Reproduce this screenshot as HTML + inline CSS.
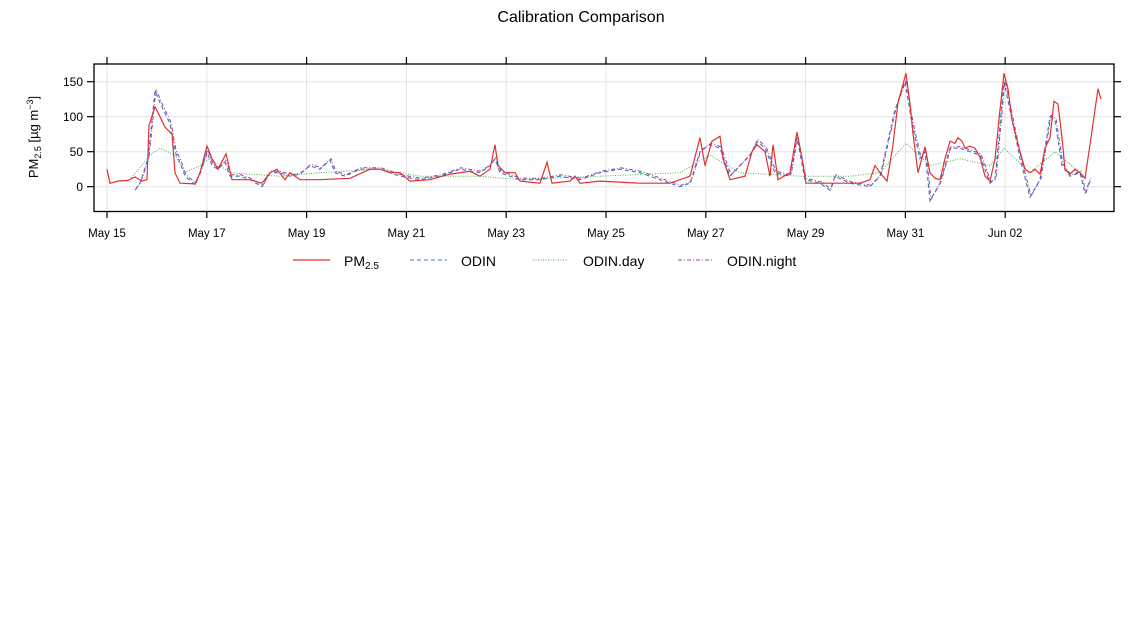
<!DOCTYPE html>
<html><head><meta charset="utf-8"><style>
html,body{margin:0;padding:0;background:#fff;width:1142px;height:630px;overflow:hidden}
text{font-family:"Liberation Sans",Arial,sans-serif;fill:#000}
</style></head><body>
<svg id="s" width="1142" height="630" xmlns="http://www.w3.org/2000/svg">
<text x="581" y="22" font-size="16" text-anchor="middle">Calibration Comparison</text>
<g id="grid" stroke="#e3e3e3" stroke-width="1"></g>
<g id="series" fill="none"></g>
<rect x="94" y="64" width="1020" height="147.5" fill="none" stroke="#000" stroke-width="1.3"/>
<g id="ticks" stroke="#000" stroke-width="1.2"></g>
<g id="labels" font-size="12"></g>
<text transform="translate(38,137) rotate(-90)" font-size="13" text-anchor="middle">PM<tspan font-size="9" dy="3">2.5</tspan><tspan dy="-3"> [µg m</tspan><tspan font-size="9" dy="-5">−3</tspan><tspan dy="5">]</tspan></text>
<g font-size="14">
<line x1="293" y1="260" x2="330" y2="260" stroke="#e0302f" stroke-width="1.2"/>
<text x="344" y="266">PM<tspan font-size="10" dy="3">2.5</tspan></text>
<line x1="410" y1="260" x2="447" y2="260" stroke="#3a78c0" stroke-width="1" stroke-dasharray="4,3"/>
<text x="461" y="266">ODIN</text>
<line x1="533" y1="260" x2="568" y2="260" stroke="#4caf50" stroke-width="1" stroke-dasharray="1,1.5"/>
<text x="583" y="266">ODIN.day</text>
<line x1="678" y1="260" x2="714" y2="260" stroke="#9c3fa0" stroke-width="1" stroke-dasharray="4,2,1,2"/>
<text x="727" y="266">ODIN.night</text>
</g>
</svg>
<script>
const NS="http://www.w3.org/2000/svg";
function el(p,t,a){const e=document.createElementNS(NS,t);for(const k in a)e.setAttribute(k,a[k]);p.appendChild(e);return e;}
const Y=v=>186.7-v*0.7;
const grid=document.getElementById('grid'),ticks=document.getElementById('ticks'),labels=document.getElementById('labels');
const xl=["May 15","May 17","May 19","May 21","May 23","May 25","May 27","May 29","May 31","Jun 02"];
xl.forEach((l,i)=>{const x=107+i*99.8;
el(grid,'line',{x1:x,y1:64,x2:x,y2:211.5});
el(ticks,'line',{x1:x,y1:211.5,x2:x,y2:218});el(ticks,'line',{x1:x,y1:64,x2:x,y2:57});
const t=el(labels,'text',{x:x,y:237,'text-anchor':'middle','font-size':'11.5'});t.textContent=l;});
[0,50,100,150].forEach(v=>{const y=Y(v);
el(grid,'line',{x1:94,y1:y,x2:1114,y2:y});
el(ticks,'line',{x1:94,y1:y,x2:87,y2:y});el(ticks,'line',{x1:1114,y1:y,x2:1121,y2:y});
const t=el(labels,'text',{x:83,y:y+4.5,'text-anchor':'end'});t.textContent=v;});
function pts(a){let s=[];for(let i=0;i<a.length;i+=2)s.push(a[i]+","+Y(a[i+1]).toFixed(1));return s.join(" ");}
const pm=[107,25,110,5,118,8,128,9,135,14,142,8,147,10,149,88,155,114,160,100,165,85,172,75,175,20,180,5,195,4,200,20,207,58,212,40,218,25,226,47,232,10,250,10,262,5,270,20,277,25,285,10,290,20,300,10,320,10,350,12,370,25,380,25,390,20,400,20,410,8,430,10,450,18,470,22,480,15,490,25,495,60,498,30,505,20,515,20,520,8,540,5,547,35,552,5,570,8,575,15,580,5,600,8,640,5,670,5,690,15,700,70,705,30,712,65,720,72,723,40,730,10,745,15,752,50,757,60,765,50,770,15,773,60,778,10,790,20,797,78,802,40,806,5,830,5,860,5,870,10,875,30,880,20,887,8,893,60,898,120,906,162,910,118,913,76,918,20,925,57,930,20,935,12,940,10,945,40,950,65,955,62,958,70,962,65,965,55,970,58,975,55,980,42,985,15,990,8,995,40,1000,110,1004,162,1008,140,1012,95,1020,50,1025,25,1030,20,1035,25,1040,18,1045,55,1050,70,1054,122,1058,118,1062,70,1065,25,1070,18,1075,25,1080,20,1085,12,1090,60,1095,110,1098,140,1101,125];
const od=[135,-5,140,5,148,40,155,137,160,120,165,105,170,90,175,50,180,35,185,15,195,3,200,20,207,50,212,30,218,25,225,35,230,15,240,15,250,10,262,0,270,20,280,20,290,15,300,18,310,30,320,25,330,38,335,20,345,15,360,25,380,25,400,15,420,10,440,15,460,25,480,20,490,30,495,40,500,20,520,10,540,10,560,15,580,10,600,20,620,25,640,20,660,10,680,0,690,5,700,50,710,60,720,55,730,15,750,45,757,65,765,55,775,20,790,15,797,70,805,10,820,5,830,-5,835,15,850,5,870,0,880,15,895,110,905,150,912,90,920,40,925,50,930,-20,940,5,950,55,960,55,970,50,980,45,990,5,995,10,1004,150,1010,110,1020,40,1030,-15,1040,10,1050,100,1055,95,1062,30,1070,15,1080,20,1085,-10,1090,10];
const dy=[130,10,150,45,160,55,175,45,185,20,200,30,210,40,230,20,280,15,320,20,380,25,420,15,480,15,520,10,600,15,680,20,710,45,740,20,800,15,850,15,880,20,906,62,930,30,960,40,990,30,1004,55,1030,20,1055,50,1080,20];
const ser=document.getElementById('series');
el(ser,'polyline',{points:pts(dy),stroke:'#4caf50','stroke-width':1,'stroke-dasharray':'1,1.5'});
el(ser,'polyline',{points:pts(od),stroke:'#3a78c0','stroke-width':1.1,'stroke-dasharray':'4,3'});
el(ser,'polyline',{points:pts(od.map((v,i)=>i%2?v+2:v+1)),stroke:'#9c3fa0','stroke-width':1,'stroke-dasharray':'4,2,1,2'});
el(ser,'polyline',{points:pts(pm),stroke:'#e0302f','stroke-width':1.2});
</script>
</body></html>
